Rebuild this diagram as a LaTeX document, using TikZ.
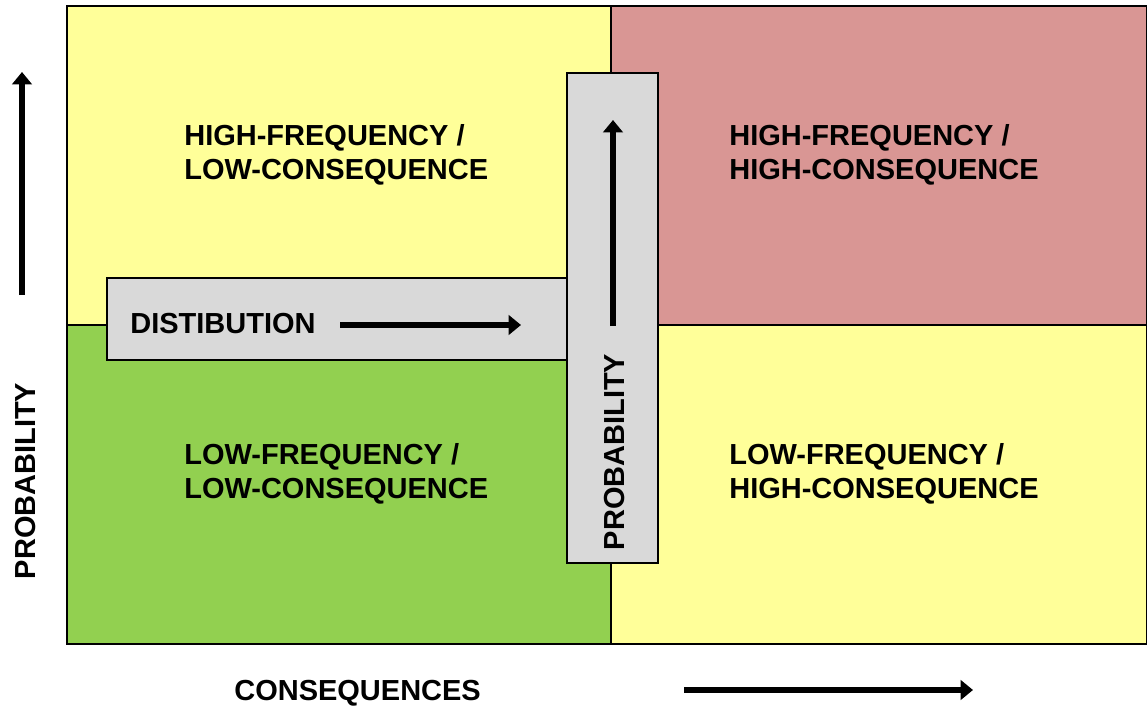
\documentclass[tikz,border=0pt]{standalone}
\usepackage{fontspec}
\setmainfont{Liberation Sans}
\usetikzlibrary{arrows.meta}

\definecolor{quadyellow}{HTML}{FFFF99}
\definecolor{quadred}{HTML}{D99694}
\definecolor{quadgreen}{HTML}{92D050}
\definecolor{boxgray}{HTML}{D9D9D9}

\tikzset{
    lbl/.style={font=\bfseries\fontsize{16.5}{19.3}\selectfont, inner sep=0pt, align=left, anchor=base west},
    bigarrow/.style={line width=3pt, -{Triangle[length=7pt,width=11pt]}},
}

\begin{document}
\begin{tikzpicture}[x=0.02cm,y=-0.02cm]
    \useasboundingbox (0,0) rectangle (1147,706);

    \draw[line width=0.8pt, fill=quadyellow] (67,6) rectangle (611,325);
    \draw[line width=0.8pt, fill=quadred] (611,6) rectangle (1147,325);
    \draw[line width=0.8pt, fill=quadgreen] (67,325) rectangle (611,644);
    \draw[line width=0.8pt, fill=quadyellow] (611,325) rectangle (1147,644);

    \node [lbl] (hflc) at (184,179.5) {HIGH-FREQUENCY /\\LOW-CONSEQUENCE};
    \node [lbl] (hfhc) at (729,179.5) {HIGH-FREQUENCY /\\HIGH-CONSEQUENCE};
    \node [lbl] (lflc) at (184,498.5) {LOW-FREQUENCY /\\LOW-CONSEQUENCE};
    \node [lbl] (lfhc) at (729,498.5) {LOW-FREQUENCY /\\HIGH-CONSEQUENCE};

    % distribution box
    \draw[line width=0.8pt, fill=boxgray] (107,278) rectangle (567,360);
    \node [lbl] (dist) at (130,333.5) {DISTIBUTION};
    \coordinate (dista) at (340,325);
    \coordinate (distb) at (521,325);
    \draw [bigarrow] (dista) -- (distb);

    % probability box
    \draw[line width=0.8pt, fill=boxgray] (567,73) rectangle (658,563);
    \node [lbl, anchor=base, rotate=90] (probin) at (624,452) {PROBABILITY};
    \coordinate (proba) at (613,326);
    \coordinate (probb) at (613,120);
    \draw [bigarrow] (proba) -- (probb);

    % axes
    \node [lbl, anchor=base, rotate=90] (yaxis) at (35.4,481) {PROBABILITY};
    \coordinate (ya) at (22,295);
    \coordinate (yb) at (22,72);
    \draw [bigarrow] (ya) -- (yb);

    \node [lbl] (xaxis) at (234,700.5) {CONSEQUENCES};
    \coordinate (xa) at (684,690);
    \coordinate (xb) at (973,690);
    \draw [bigarrow] (xa) -- (xb);
\end{tikzpicture}
\end{document}
